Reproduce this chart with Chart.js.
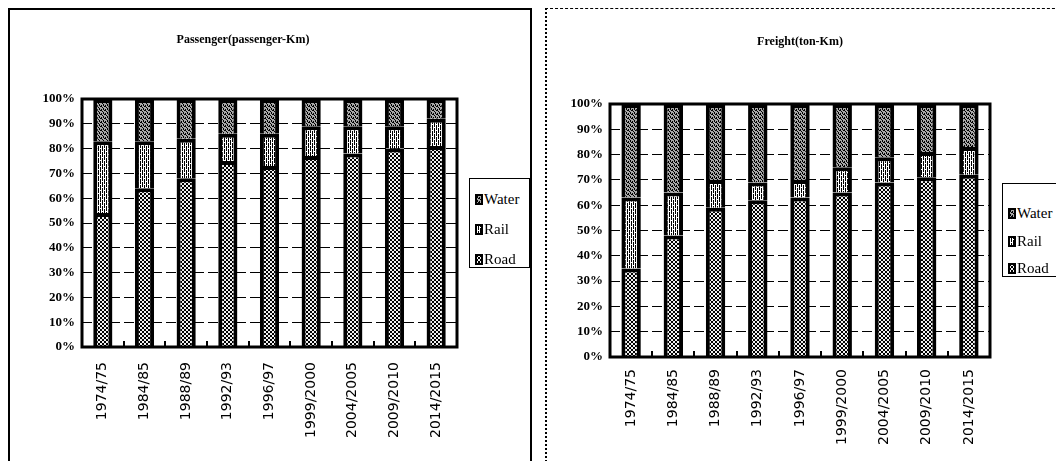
<!DOCTYPE html>
<html><head><meta charset="utf-8">
<script src="https://cdn.jsdelivr.net/npm/chart.js@4.4.1/dist/chart.umd.min.js"></script>
<style>
html,body{margin:0;padding:0;background:#fff;width:1056px;height:461px;overflow:hidden;position:relative;font-family:"Liberation Serif",serif;}
.panel{position:absolute;box-sizing:border-box;}
#p1{left:8px;top:8px;width:524px;height:470px;border:2px solid #000;}
#p2{left:545px;top:8px;width:530px;height:470px;border-top:1px dashed #000;border-left:2px dotted #000;}
#c1,#c2{position:absolute;}
#c1{left:29px;top:10px;}
#c2{left:560px;top:10px;}
.legend{position:absolute;border:1px solid #000;box-sizing:border-box;background:#fff;overflow:hidden;}
.item{position:absolute;left:5px;height:18px;display:flex;align-items:center;white-space:nowrap;font-size:15px;color:#000;}
.item canvas{margin-right:1px;}
</style></head>
<body>
<div class="panel" id="p1"></div>
<div class="panel" id="p2"></div>
<canvas id="c1" width="431" height="451"></canvas>
<canvas id="c2" width="433" height="451"></canvas>
<div class="legend" id="lg1" style="left:469px;top:178px;width:61px;height:90px;"></div>
<div class="legend" id="lg2" style="left:1002px;top:183px;width:70px;height:94px;"></div>
<script>
// ---- data ----
const categories = ["1974/75","1984/85","1988/89","1992/93","1996/97","1999/2000","2004/2005","2009/2010","2014/2015"];
const seriesNames = ["Road","Rail","Water"];
const passengerRoad  = [54, 64, 68, 75, 73, 77, 78, 80, 81];
const passengerRail  = [29, 19, 16, 11, 13, 12, 11,  9, 11];
const passengerWater = [17, 17, 16, 14, 14, 11, 11, 11,  8];
const freightRoad  = [35, 48, 59, 62, 63, 65, 69, 71, 72];
const freightRail  = [28, 17, 11,  7,  7, 10, 10, 10, 11];
const freightWater = [37, 35, 30, 31, 30, 25, 21, 19, 17];
const passengerTitle = "Passenger(passenger-Km)";
const freightTitle = "Freight(ton-Km)";

// ---- fill patterns ----
const tiles = {
  Road:  ["#..#", ".##.", ".##.", "#..#"],
  Rail:  [".#..", ".#.#", ".#.#", "...#", ".#.#", ".#.#"],
  Water: ["#..#", ".#..", "..#.", "#.#."]
};
const tileBg = {Road:"#f0f0f0", Rail:"#ffffff", Water:"#a8a8a8"};
function makePattern(ctx, name){
  const rows = tiles[name];
  const c = document.createElement('canvas');
  c.width = rows[0].length; c.height = rows.length;
  const g = c.getContext('2d');
  g.fillStyle = tileBg[name]; g.fillRect(0,0,c.width,c.height);
  g.fillStyle = "#000";
  rows.forEach((r,y)=>{ for(let x=0;x<r.length;x++) if(r[x]==='#') g.fillRect(x,y,1,1); });
  return ctx.createPattern(c,'repeat');
}

const framePlugin = {
  id:'frame',
  afterDraw(chart){
    const {ctx, chartArea:a, scales:{x}} = chart;
    ctx.save();
    ctx.strokeStyle = '#000';
    ctx.lineWidth = 2;
    for(let i=1;i<x.ticks.length;i++){
      const px = Math.round((x.getPixelForTick(i-1)+x.getPixelForTick(i))/2);
      ctx.beginPath(); ctx.moveTo(px, a.bottom); ctx.lineTo(px, a.bottom-6); ctx.stroke();
    }
    ctx.lineWidth = 3;
    ctx.strokeRect(a.left, a.top, a.right-a.left, a.bottom-a.top);
    ctx.restore();
  }
};

function build(id, title, road, rail, water, cfg){
  const canvas = document.getElementById(id);
  const ctx = canvas.getContext('2d');
  const values = {Road:road, Rail:rail, Water:water};
  return new Chart(ctx, {
    type:'bar',
    data:{
      labels: categories,
      datasets: seriesNames.map(n=>({
        label:n, data:values[n],
        backgroundColor: makePattern(ctx,n),
        borderColor:'#000', borderWidth:4,
        barPercentage:0.46, categoryPercentage:1
      }))
    },
    options:{
      responsive:false, animation:false,
      devicePixelRatio:1,
      layout:{padding:{left:0,right:3,top:0,bottom:0}},
      plugins:{
        legend:{display:false},
        tooltip:{enabled:false},
        title:{display:true, text:title, fullSize:cfg.fullSize, color:'#000',
          font:{family:'"Liberation Serif", serif', size:12, weight:'bold'},
          padding:{top:cfg.titleTop, bottom:cfg.titleBottom}}
      },
      scales:{
        x:{stacked:true,
          grid:{display:true, drawOnChartArea:false, drawTicks:true, tickLength:cfg.xPad, tickColor:'rgba(0,0,0,0)'},
          border:{display:false},
          ticks:{minRotation:90, maxRotation:90, padding:0, color:'#000',
            font:{family:'"DejaVu Sans", sans-serif', size:14}},
          afterFit(s){ s.height = cfg.xHeight; }
        },
        y:{stacked:true, min:0, max:100,
          grid:{color:'#000', lineWidth:1, drawTicks:false},
          border:{display:false, dash:[10,4]},
          ticks:{stepSize:10, padding:7, color:'#000',
            font:{family:'"Liberation Serif", serif', size:13, weight:'bold'},
            callback:v=>v+'%'},
          afterFit(s){ s.width = cfg.yWidth; }
        }
      }
    },
    plugins:[framePlugin]
  });
}

const ch1 = build('c1', passengerTitle, passengerRoad, passengerRail, passengerWater,
  {fullSize:true, titleTop:23, titleBottom:51.6, xHeight:114, yWidth:53, xPad:15});
const ch2 = build('c2', freightTitle, freightRoad, freightRail, freightWater,
  {fullSize:false, titleTop:24.8, titleBottom:54.8, xHeight:104, yWidth:50, xPad:12});

function legend(divId, tops){
  const div = document.getElementById(divId);
  const order = ["Water","Rail","Road"];
  order.forEach((n,i)=>{
    const item = document.createElement('div');
    item.className = 'item';
    item.style.top = tops[i]+'px';
    const sw = document.createElement('canvas');
    sw.width = 8; sw.height = 11;
    const g = sw.getContext('2d');
    g.fillStyle = makePattern(g,n); g.fillRect(0,0,8,11);
    g.strokeStyle = '#000'; g.lineWidth = 2; g.strokeRect(1,1,6,9);
    item.appendChild(sw);
    const t = document.createElement('span');
    t.textContent = n;
    item.appendChild(t);
    div.appendChild(item);
  });
}
legend('lg1', [11,41,71]);
legend('lg2', [20,48,75]);
</script>
</body></html>
